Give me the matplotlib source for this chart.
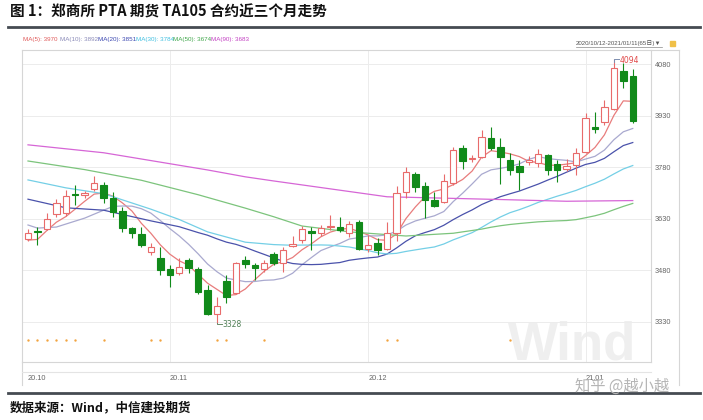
import numpy as np
import matplotlib
matplotlib.use('Agg')
import matplotlib.pyplot as plt
from matplotlib.lines import Line2D
from matplotlib.patches import Rectangle
import matplotlib.transforms as mtransforms

plt.rcParams['font.family'] = ['Noto Sans CJK SC', 'DejaVu Sans']

# ---------------- data ----------------
opens = [3570, 3594, 3600, 3644, 3646, 3703, 3700, 3716, 3728, 3690,
         3654, 3602, 3586, 3533, 3515, 3483, 3472, 3510, 3484, 3423,
         3352, 3449, 3414, 3510, 3496, 3483, 3528, 3502, 3551, 3568,
         3595, 3588, 3606, 3607, 3588, 3622, 3542, 3561, 3542, 3590,
         3709, 3760, 3725, 3685, 3680, 3735, 3835, 3804, 3811, 3866,
         3838, 3800, 3783, 3795, 3791, 3815, 3788, 3776, 3787, 3825,
         3898, 3910, 3948, 4060, 4045]
highs = [3600, 3605, 3646, 3687, 3714, 3728, 3712, 3754, 3738, 3709,
         3665, 3607, 3607, 3561, 3547, 3496, 3515, 3517, 3491, 3438,
         3404, 3467, 3503, 3522, 3501, 3510, 3534, 3549, 3580, 3609,
         3607, 3612, 3640, 3636, 3625, 3627, 3583, 3573, 3622, 3725,
         3781, 3767, 3738, 3709, 3760, 3840, 3845, 3815, 3888, 3898,
         3865, 3820, 3800, 3812, 3832, 3818, 3801, 3805, 3835, 3937,
         3941, 3975, 4094, 4082, 4065]
lows = [3565, 3555, 3597, 3636, 3638, 3670, 3690, 3712, 3675, 3636,
        3593, 3574, 3549, 3525, 3467, 3433, 3467, 3471, 3411, 3350,
        3328, 3386, 3411, 3488, 3452, 3476, 3496, 3475, 3548, 3561,
        3539, 3580, 3597, 3593, 3576, 3539, 3534, 3525, 3539, 3565,
        3690, 3709, 3632, 3665, 3675, 3728, 3774, 3796, 3806, 3830,
        3730, 3757, 3715, 3785, 3782, 3757, 3738, 3770, 3757, 3822,
        3878, 3903, 3945, 4009, 3909]
closes = [3590, 3592, 3629, 3675, 3696, 3700, 3705, 3733, 3691, 3649,
          3602, 3588, 3554, 3547, 3481, 3467, 3491, 3488, 3416, 3352,
          3377, 3402, 3501, 3498, 3486, 3501, 3502, 3540, 3558, 3599,
          3588, 3604, 3608, 3597, 3615, 3541, 3554, 3539, 3588, 3706,
          3767, 3723, 3685, 3668, 3740, 3830, 3799, 3807, 3869, 3835,
          3811, 3772, 3767, 3800, 3818, 3772, 3771, 3784, 3820, 3922,
          3890, 3954, 4067, 4031, 3915]

# moving-average values for the part before the
# window is complete inside the visible range
ma5_head_idx = [0, 1, 2, 3]
ma5_head = [3568, 3570, 3596, 3620]
ma10_head_idx = [0, 1, 3, 6, 8]
ma10_head = [3612, 3603, 3606, 3632, 3655]
ma20_head_idx = [0, 4, 8, 13, 16, 18]
ma20_head = [3687, 3662, 3655, 3624, 3607, 3590]
ma30_head_idx = [0, 4, 8, 13, 16, 19, 23, 26, 28]
ma30_head = [3743, 3720, 3703, 3658, 3628, 3592, 3562, 3555, 3553]
ma50_head_idx = [0, 6, 12, 18, 23, 26, 29, 34, 40, 45, 48]
ma50_head = [3798, 3773, 3742, 3700, 3661, 3636, 3609, 3592, 3580, 3588, 3600]
ma90_idx = [0, 8, 19, 23, 26, 38, 50, 57, 64]
ma90_vals = [3845, 3822, 3772, 3752, 3740, 3694, 3686, 3681, 3683]

ma_labels = ['MA(5): 3970', 'MA(10): 3892', 'MA(20): 3851',
             'MA(30): 3784', 'MA(50): 3674', 'MA(90): 3683']

signal_idx = [0, 1, 2, 3, 4, 5, 8, 13, 14, 20, 21, 25, 38, 39, 51]

yticks = [3330, 3480, 3630, 3780, 3930, 4080]
month_idx = [0, 15, 36, 59]
month_labels = ['20.10', '20.11', '20.12', '21.01']

title = '图 1：郑商所 PTA 期货 TA105 合约近三个月走势'
source = '数据来源：Wind，中信建投期货'
date_range = '2020/10/12-2021/01/11(65日)▼'

# ---------------- styling ----------------
W, H = 703, 420
def fx(px):
    return px / W
def fy(py):
    return 1 - py / H

UP = '#e86b6b'
DOWN = '#118a1a'
ma_line_colors = ['#e87c7c', '#a9a9cf', '#4a52ab', '#74cfe6', '#7cc47c', '#d666d6']
ma_text_colors = ['#e05a5a', '#8a8ab8', '#3a46b0', '#3fbfe0', '#3fa64a', '#c23fc2']
GRID = '#ececec'
FRAME = '#d6d6d6'
SMALL = ['Liberation Sans', 'Noto Sans CJK SC', 'DejaVu Sans']

fig = plt.figure(figsize=(W / 100, H / 100), dpi=100)
ax = fig.add_axes([fx(22), fy(362), fx(651) - fx(22), fy(50) - fy(362)])
ax.patch.set_alpha(0)

n = len(closes)
idx = np.arange(n)
o = np.array(opens, float)
c = np.array(closes, float)
hi = np.array(highs, float)
lo = np.array(lows, float)

ax.set_xlim(-0.635, 65.93)
ax.set_ylim(3213.7, 4120.7)

# grid
for yv in yticks:
    ax.axhline(yv, color=GRID, lw=0.7, zorder=0)
for mi in month_idx[1:]:
    ax.axvline(mi, color=GRID, lw=0.7, zorder=0)

# moving averages
s = np.array(closes, float)
def roll(k):
    return np.array([s[i - k + 1:i + 1].mean() for i in range(k - 1, n)])

heads = [(ma5_head_idx, ma5_head, 5), (ma10_head_idx, ma10_head, 10),
         (ma20_head_idx, ma20_head, 20), (ma30_head_idx, ma30_head, 30),
         (ma50_head_idx, ma50_head, 50)]
for (hidx, hval, k), col in zip(heads, ma_line_colors[:5]):
    xs = list(hidx) + list(range(k - 1, n))
    ys = list(hval) + list(roll(k))
    ax.plot(xs, ys, color=col, lw=0.9, zorder=2)
ax.plot(ma90_idx, ma90_vals, color=ma_line_colors[5], lw=0.9, zorder=2)

# candles
up = c >= o
cols = np.where(up, UP, DOWN)
ax.vlines(idx, lo, hi, colors=cols, lw=0.8, zorder=3)
body_bottom = np.minimum(o, c)
body_h = np.maximum(np.abs(c - o), 1.2)
ax.bar(idx[up], body_h[up], bottom=body_bottom[up], width=0.68,
       facecolor='white', edgecolor=UP, linewidth=0.8, zorder=4)
ax.bar(idx[~up], body_h[~up], bottom=body_bottom[~up], width=0.68,
       facecolor=DOWN, edgecolor=DOWN, linewidth=0.8, zorder=4)

# high / low annotations
imax = int(np.argmax(hi))
imin = int(np.argmin(lo))
ax.plot([imax, imax, imax + 0.55], [hi[imax] - 8, hi[imax], hi[imax]],
        color='#7d8fb0', lw=0.7, zorder=5)
ax.text(imax + 0.6, hi[imax] - 5, f'{int(hi[imax])}', color='#e04848',
        fontsize=5.5, va='center', ha='left', family='DejaVu Sans', zorder=5)
ax.plot([imin, imin, imin + 0.55], [lo[imin], lo[imin] - 5, lo[imin] - 5],
        color='#6a8a6a', lw=0.7, zorder=5)
ax.text(imin + 0.6, lo[imin] - 5, f'{int(lo[imin])}', color='#4f7f55',
        fontsize=5.5, va='center', ha='left', family='DejaVu Sans', zorder=5)

# signal dots
btr = mtransforms.blended_transform_factory(ax.transData, ax.transAxes)
ax.scatter(signal_idx, [0.07] * len(signal_idx), s=3, color='#f2a440',
           transform=btr, zorder=5, linewidths=0)

# axes / ticks
ax.yaxis.tick_right()
ax.set_yticks(yticks)
ax.set_yticklabels([str(v) for v in yticks], family=SMALL)
ax.tick_params(axis='y', length=0, pad=2.5, labelsize=5.3, labelcolor='#666666')
ax.set_xticks(month_idx)
ax.set_xticklabels(month_labels, ha='left', family=SMALL)
ax.tick_params(axis='x', length=0, pad=9, labelsize=5.3, labelcolor='#666666')
for sp in ax.spines.values():
    sp.set_color(FRAME)
    sp.set_linewidth(0.8)

# outer frame for price-label column and x-axis strip
fig.add_artist(Line2D([fx(651), fx(679)], [fy(50), fy(50)], color=FRAME, lw=0.8))
fig.add_artist(Line2D([fx(679), fx(679)], [fy(50), fy(385)], color=FRAME, lw=0.8))
fig.add_artist(Line2D([fx(22), fx(22)], [fy(362), fy(385)], color=FRAME, lw=0.8))
fig.add_artist(Line2D([fx(22), fx(651)], [fy(372), fy(372)], color='#e4e4e4', lw=0.8))

# header (MA legend + date range)
ma_x = [23, 60, 98, 136, 173, 211]
for lab, col, xp in zip(ma_labels, ma_text_colors, ma_x):
    fig.text(fx(xp), fy(40), lab, color=col, fontsize=4.5, va='center',
             ha='left', family=SMALL)
fig.text(fx(576), fy(43), date_range, color='#555555', fontsize=4.4,
         va='center', ha='left', family=SMALL)
fig.add_artist(Line2D([fx(576), fx(662)], [fy(47), fy(47)], color='#888888', lw=0.5))
fig.add_artist(Rectangle((fx(670), fy(46)), 5 / W, 5 / H, color='#f0c048',
                         transform=fig.transFigure))

# title and rules
fig.text(fx(10), fy(12), title, fontsize=10.5, fontweight='bold', va='center',
         ha='left', color='#111111')
fig.add_artist(Line2D([fx(8), fx(700)], [fy(27), fy(27)], color='#454b52', lw=2.0))
fig.add_artist(Line2D([fx(8), fx(700)], [fy(393), fy(393)], color='#454b52', lw=2.0))
fig.text(fx(10), fy(408), source, fontsize=9, fontweight='bold', style='italic',
         va='center', ha='left', color='#111111')

# watermarks
fig.text(fx(572), fy(345), 'Wind', fontsize=38, fontweight='bold', color='#efefef',
         ha='center', va='center', zorder=-1, family=SMALL)
fig.text(fx(622), fy(386), '知乎 @越小越', fontsize=11, color='#b5b5b5',
         ha='center', va='center', zorder=10)

fig.savefig('out.png', dpi=100)
